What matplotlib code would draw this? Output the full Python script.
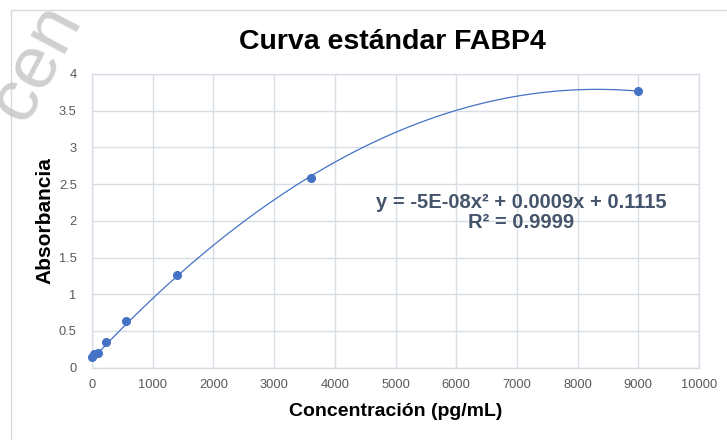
import numpy as np
import matplotlib.pyplot as plt
from matplotlib.patches import Rectangle

# Standard curve readings (concentration in pg/mL vs absorbance)
concentracion = [0, 37, 92, 230, 560, 1400, 3600, 9000]
absorbancia = [0.15, 0.187, 0.204, 0.346, 0.636, 1.265, 2.58, 3.77]
intercepto = 0.1115
r2_texto = 'R² = 0.9999'

x_ticks = [0, 1000, 2000, 3000, 4000, 5000, 6000, 7000, 8000, 9000, 10000]
y_ticks = [0, 0.5, 1, 1.5, 2, 2.5, 3, 3.5, 4]
y_tick_labels = ['0', '0.5', '1', '1.5', '2', '2.5', '3', '3.5', '4']

# quadratic trendline with the reported intercept
x = np.array(concentracion, dtype=float)
y = np.array(absorbancia, dtype=float)
A = np.column_stack([x ** 2, x])
(a, b), *_ = np.linalg.lstsq(A, y - intercepto, rcond=None)

blue = '#4472C4'
grid_c = '#D9DDE6'
tick_c = '#595959'
eq_c = '#44546A'
sans = ['Liberation Sans', 'DejaVu Sans']

fig = plt.figure(figsize=(7.27, 4.4), dpi=100)
ax = fig.add_axes([92 / 727, 1 - 367.7 / 440, (699 - 92) / 727, (367.7 - 74) / 440])

xs = np.linspace(0, max(concentracion), 400)
ax.plot(xs, a * xs ** 2 + b * xs + intercepto, color=blue, lw=0.9, zorder=3)
ax.plot(concentracion, absorbancia, 'o', color=blue, ms=5.5, zorder=4, clip_on=False)

ax.set_xlim(0, 10000)
ax.set_ylim(0, 4)
ax.set_xticks(x_ticks)
ax.set_yticks(y_ticks)
ax.set_yticklabels(y_tick_labels)
ax.grid(True, color=grid_c, lw=1)
ax.set_axisbelow(True)
for s in ax.spines.values():
    s.set_color(grid_c)
    s.set_linewidth(1)
ax.tick_params(length=0, labelsize=9.3, labelcolor=tick_c)
ax.tick_params(axis='y', pad=11)
ax.tick_params(axis='x', pad=8)
for lab in ax.get_xticklabels() + ax.get_yticklabels():
    lab.set_family(sans)

ax.set_xlabel('Concentración (pg/mL)', fontsize=14, fontweight='bold',
              family=sans, labelpad=9)
ax.set_ylabel('Absorbancia', fontsize=15, fontweight='bold',
              family=sans, labelpad=3)

fig.text(392 / 727, 1 - 42 / 440, 'Curva estándar FABP4', ha='center', va='center',
         fontsize=20.5, fontweight='bold', family=sans)

ax.text(521 / 727, 1 - 202 / 440, 'y = -5E-08x² + 0.0009x + 0.1115',
        transform=fig.transFigure, ha='center', va='center', fontsize=14.5,
        fontweight='bold', color=eq_c, family=sans)
ax.text(521 / 727, 1 - 222 / 440, r2_texto,
        transform=fig.transFigure, ha='center', va='center', fontsize=14.5,
        fontweight='bold', color=eq_c, family=sans)

# chart frame
fig.patches.append(Rectangle((11 / 727, -0.1), 1.2, 1 - 10 / 440 + 0.1,
                             transform=fig.transFigure, fill=False,
                             edgecolor='#D9D9D9', lw=1))

# faint watermark in the corner
fig.text(-0.03, 0.70, 'cen', rotation=62, fontsize=54, color='#C4C4C4',
         alpha=0.8, family=sans, ha='left', va='bottom')

fig.savefig('out.png', dpi=100)
